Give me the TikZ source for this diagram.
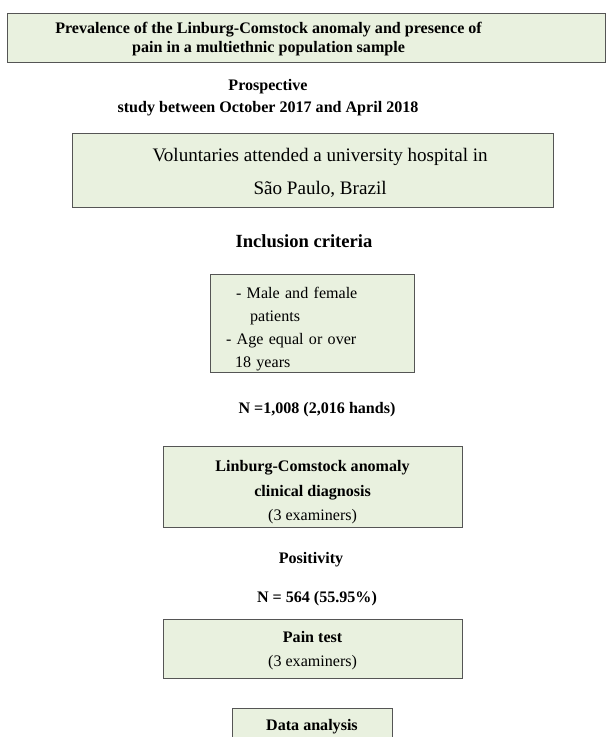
\documentclass[tikz,border=0pt]{standalone}
\usepackage{xcolor}
\usepackage{tikz}
\usepackage{fontspec}
\setmainfont{Liberation Serif}
\usetikzlibrary{positioning, calc}

\definecolor{boxgreen}{RGB}{233,241,223}
\definecolor{boxline}{RGB}{85,85,85}

\begin{document}
\begin{tikzpicture}
    % Styles
    \tikzstyle{block} = [rectangle, draw=boxline, line width=0.9pt, fill=boxgreen, align=center, inner sep=0pt]
    \tikzstyle{bold} = [font=\fontsize{16}{19}\selectfont\bfseries, align=center, inner sep=0pt]
    \tikzstyle{plain} = [font=\fontsize{16}{24.5}\selectfont]

    \useasboundingbox (0,0) rectangle (21.21,-25.795);

    % Title
    \node[block, minimum width=20.9cm, minimum height=1.715cm] (title) at (10.7275,-1.3125) {};
    \node[bold] (titletext) at (9.40,-1.38) {Prevalence of the Linburg-Comstock anomaly and presence of\\pain in a multiethnic population sample};

    % Study design
    \node[bold, font=\fontsize{16}{22}\selectfont\bfseries] (design) at (9.38,-3.42) {Prospective\\study between October 2017 and April 2018};

    % Volunteers
    \node[block, minimum width=16.84cm, minimum height=2.59cm, font=\fontsize{19}{33}\selectfont] (volunteers) at (10.94,-5.95) {\rule{0pt}{18pt}\hspace*{15pt}Voluntaries attended a university hospital in\\\hspace*{15pt}São Paulo, Brazil};

    % Inclusion criteria
    \node[bold, font=\fontsize{18.5}{22}\selectfont\bfseries] (inclusion) at (10.64,-8.43) {Inclusion criteria};
    \node[block, minimum width=7.14cm, minimum height=3.43cm, text width=6.02cm, align=left, font=\fontsize{16}{23}\selectfont] (criteria) at (10.92,-11.305) {\rule{0pt}{23pt}\hspace*{10pt}- Male and female\\\hspace*{24pt}patients\\- Age equal or over\\\hspace*{9pt}18 years};

    % Sample
    \node[bold] (sample) at (11.095,-14.33) {N =1,008 (2,016 hands)};

    % Clinical diagnosis
    \node[block, minimum width=10.47cm, minimum height=2.835cm, plain] (diagnosis) at (10.94,-17.06) {\rule{0pt}{21pt}\textbf{Linburg-Comstock anomaly}\\\textbf{clinical diagnosis}\\(3 examiners)};

    % Positive cases
    \node[bold] (positivity) at (10.885,-19.6) {Positivity};
    \node[bold] (positive) at (11.095,-20.95) {N = 564 (55.95\%)};

    % Pain test
    \node[block, minimum width=10.47cm, minimum height=2.065cm, plain, font=\fontsize{16}{24}\selectfont] (pain) at (10.94,-22.6975) {\rule{0pt}{15pt}\textbf{Pain test}\\(3 examiners)};

    % Data analysis
    \node[block, minimum width=5.6cm, minimum height=1.19cm, font=\fontsize{16}{19}\selectfont\bfseries] (analysis) at (10.92,-25.375) {\rule{0pt}{15pt}Data analysis};
\end{tikzpicture}
\end{document}
